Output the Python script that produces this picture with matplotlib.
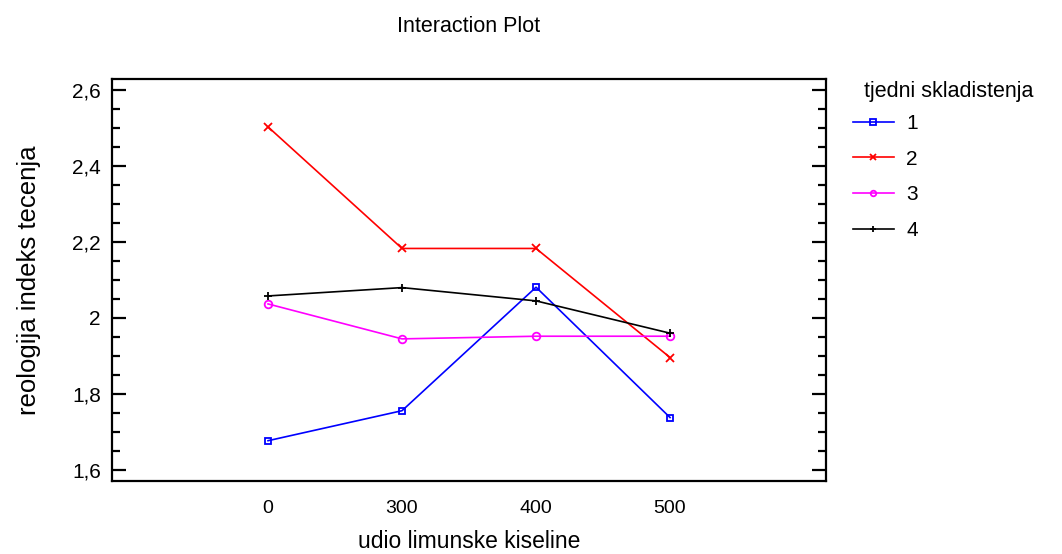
import matplotlib
matplotlib.use("Agg")
import matplotlib.pyplot as plt
from matplotlib.ticker import MultipleLocator, FuncFormatter

categories = ["0", "300", "400", "500"]
series_names = ["1", "2", "3", "4"]
week1 = [1.677, 1.756, 2.081, 1.738]
week2 = [2.503, 2.183, 2.183, 1.896]
week3 = [2.037, 1.945, 1.952, 1.952]
week4 = [2.058, 2.080, 2.045, 1.960]
title = "Interaction Plot"
xlabel = "udio limunske kiseline"
ylabel = "reologija indeks tecenja"
legend_title = "tjedni skladistenja"

plt.rcParams['font.family'] = ['Liberation Sans', 'DejaVu Sans']

fig = plt.figure(figsize=(10.62, 5.54), dpi=100)
ax = fig.add_axes([0.1055, 0.1318, 0.6723, 0.7256])

styles = [
    dict(color="#0000ff", marker="s", markersize=4, markerfacecolor="none", markeredgewidth=1.3),
    dict(color="#ff0000", marker="x", markersize=6, markeredgewidth=1.3),
    dict(color="#ff00ff", marker="o", markersize=5.5, markerfacecolor="none", markeredgewidth=1.3),
    dict(color="#000000", marker="+", markersize=6, markeredgewidth=1.3),
]
xs = list(range(len(categories)))
for vals, name, st in zip([week1, week2, week3, week4], series_names, styles):
    ax.plot(xs, vals, linewidth=1.2, label=name, **st)

ax.set_xlim(-1.164, 4.164)
ax.set_ylim(1.571, 2.629)
ax.set_xticks(xs)
ax.set_xticklabels(categories)
ax.yaxis.set_major_locator(MultipleLocator(0.2))
ax.yaxis.set_minor_locator(MultipleLocator(0.05))
ax.yaxis.set_major_formatter(FuncFormatter(lambda v, p: ("%g" % round(v, 2)).replace(".", ",")))
ax.tick_params(axis="y", which="major", direction="in", length=10, width=1.6, left=True, right=True, labelsize=15, pad=8)
ax.tick_params(axis="y", which="minor", direction="in", length=6, width=1.6, left=True, right=True)
ax.tick_params(axis="x", which="both", length=0, labelsize=14, pad=14)
for s in ax.spines.values():
    s.set_linewidth(1.6)

ax.set_title(title, fontsize=15.5, pad=34)
ax.set_xlabel(xlabel, fontsize=16.5, labelpad=9)
ax.set_ylabel(ylabel, fontsize=18.5, labelpad=22)

fig.text(864 / 1062, 1 - 91 / 554, legend_title, fontsize=15.5, ha="left", va="center")
leg = ax.legend(loc="upper left", bbox_to_anchor=(1.038, 0.913),
                frameon=False, fontsize=15, handlelength=1.95,
                labelspacing=0.8, handletextpad=0.6, borderaxespad=0, borderpad=0)
for h in leg.legend_handles:
    h.set_markersize(4)

fig.savefig("out.png", dpi=100)
